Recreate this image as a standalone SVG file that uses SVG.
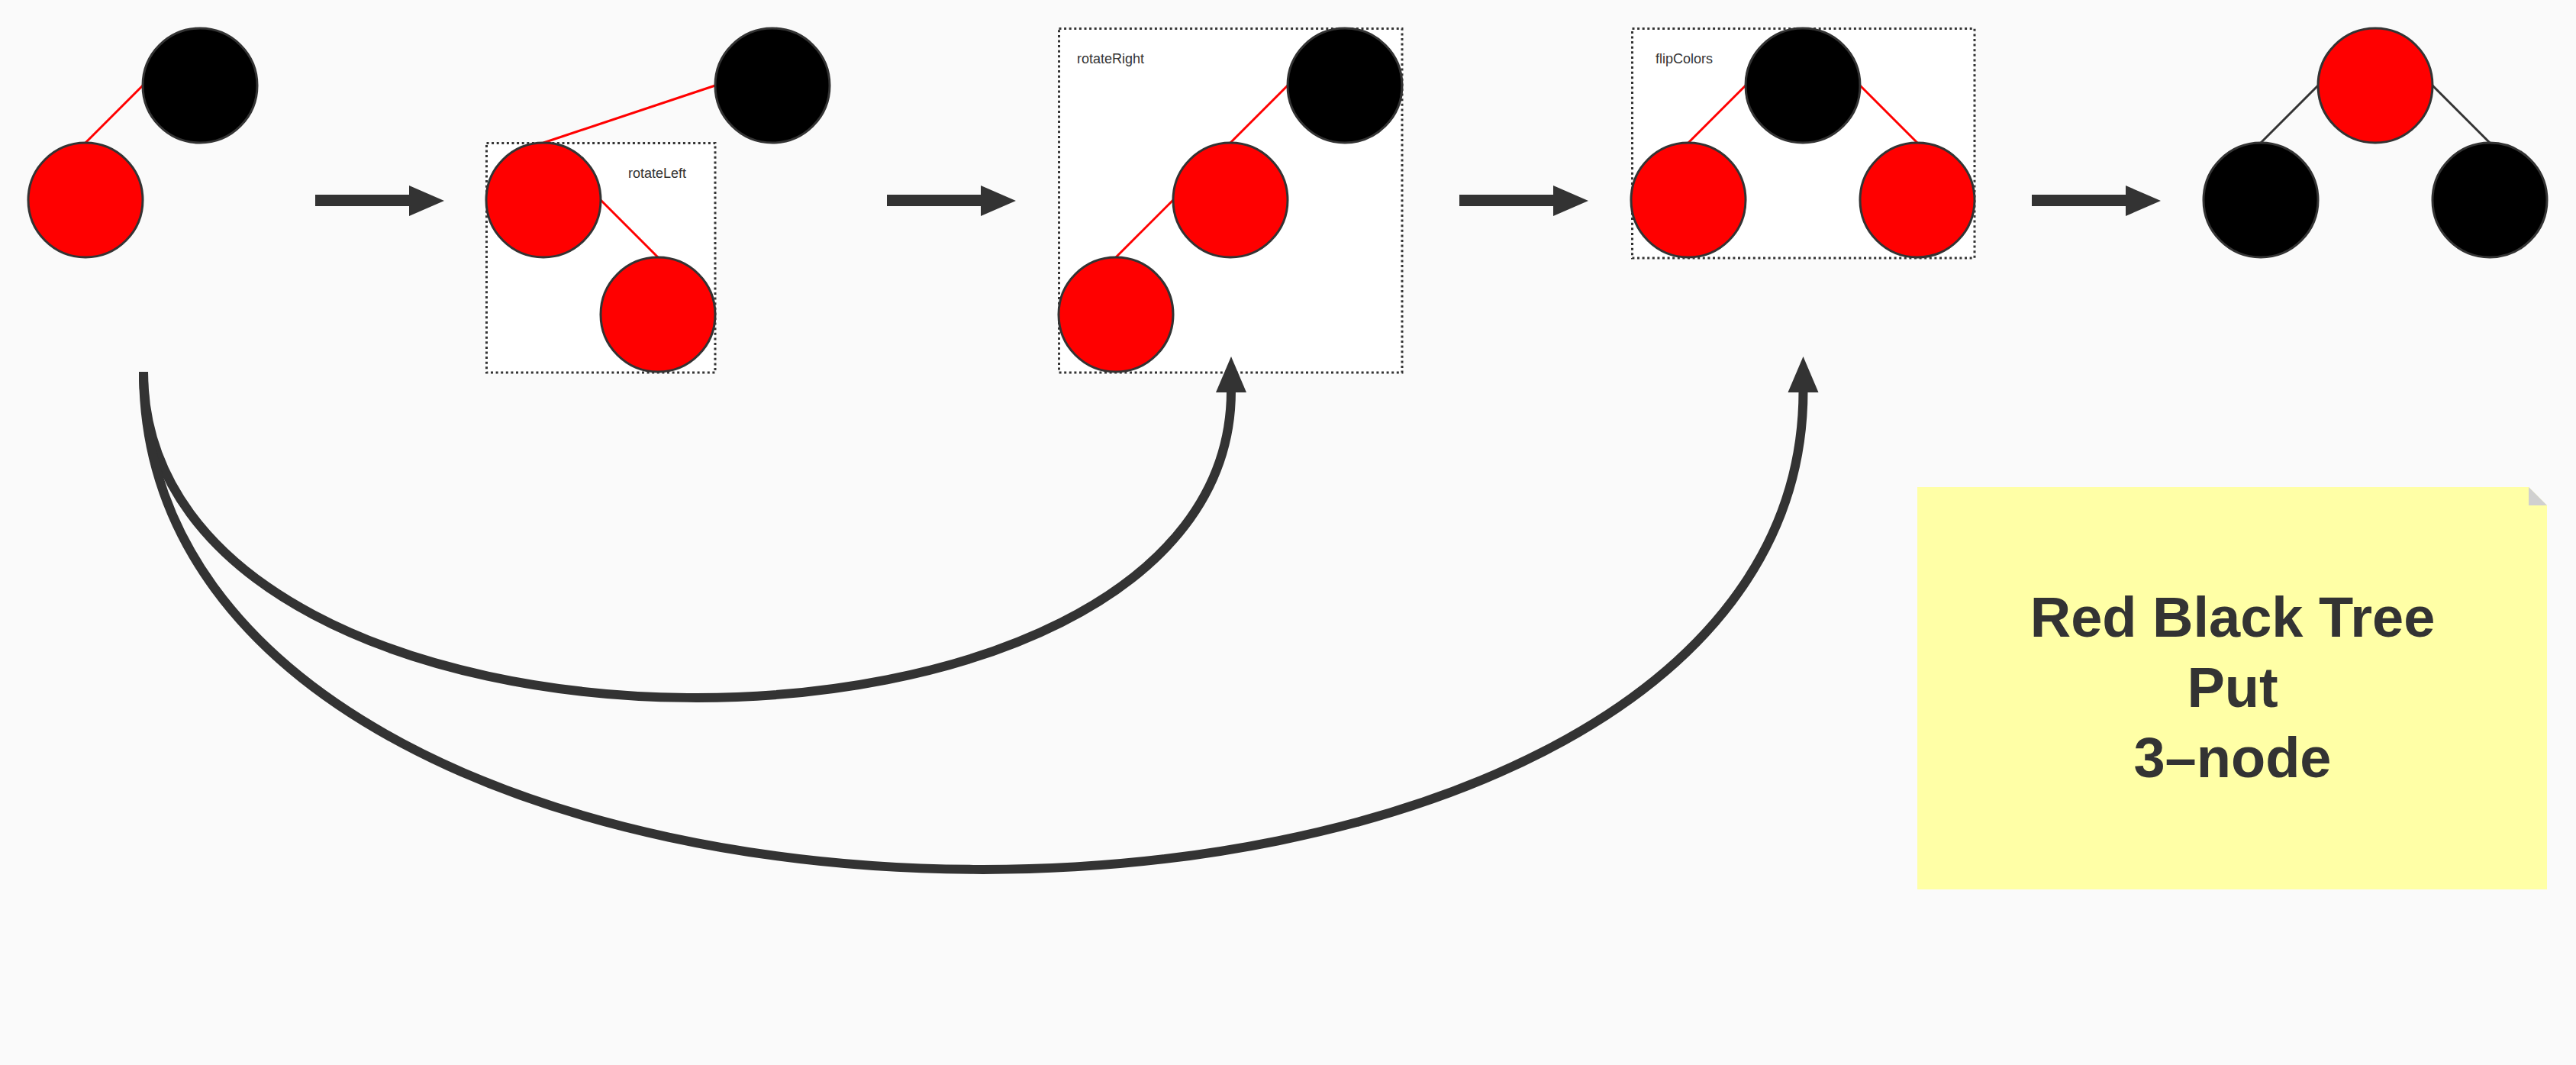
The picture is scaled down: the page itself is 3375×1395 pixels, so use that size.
<svg xmlns="http://www.w3.org/2000/svg" width="3375" height="1395" viewBox="0 0 3375 1395">
<style>
.bg{fill:#fafafa}
.box{fill:#ffffff;stroke:#333333;stroke-width:3;stroke-dasharray:3 3.6}
.red{fill:#ff0000;stroke:#333333;stroke-width:3}
.blk{fill:#000000;stroke:#333333;stroke-width:3}
.rl{stroke:#ff0000;stroke-width:3;fill:none}
.bl{stroke:#333333;stroke-width:3;fill:none}
.lbl{font-family:"Liberation Sans",Arial,Helvetica,sans-serif;font-size:18px;fill:#333333}
.big{font-family:"Liberation Sans",Arial,Helvetica,sans-serif;font-size:74px;font-weight:bold;fill:#333333;text-anchor:middle}
.arr{fill:#333333}
.curve{fill:none;stroke:#333333;stroke-width:12}
</style>
<rect class="bg" x="0" y="0" width="3375" height="1395"/>

<g id="tree1">
  <line class="rl" x1="187" y1="112" x2="112" y2="187"/>
  <g id="t1-black"><circle class="blk" cx="262" cy="112" r="75"/></g>
  <g id="t1-red"><circle class="red" cx="112" cy="262" r="75"/></g>
</g>

<g id="tree2">
  <rect id="box-rotateLeft" class="box" x="637.5" y="187.5" width="299.5" height="300.5"/>
  <line class="rl" x1="937" y1="112" x2="712" y2="187"/>
  <line class="rl" x1="787" y1="262" x2="862" y2="337"/>
  <g id="t2-black"><circle class="blk" cx="1012" cy="112" r="75"/></g>
  <g id="t2-red1"><circle class="red" cx="712" cy="262" r="75"/></g>
  <g id="t2-red2"><circle class="red" cx="862" cy="412" r="75"/></g>
  <text class="lbl" x="823" y="233">rotateLeft</text>
</g>

<g id="tree3">
  <rect id="box-rotateRight" class="box" x="1387.5" y="37.5" width="449.5" height="450.5"/>
  <line class="rl" x1="1687" y1="112" x2="1612" y2="187"/>
  <line class="rl" x1="1537" y1="262" x2="1462" y2="337"/>
  <g id="t3-black"><circle class="blk" cx="1762" cy="112" r="75"/></g>
  <g id="t3-red1"><circle class="red" cx="1612" cy="262" r="75"/></g>
  <g id="t3-red2"><circle class="red" cx="1462" cy="412" r="75"/></g>
  <text class="lbl" x="1411" y="83">rotateRight</text>
</g>

<g id="tree4">
  <rect id="box-flipColors" class="box" x="2138.5" y="37.5" width="448.5" height="300.5"/>
  <line class="rl" x1="2287" y1="112" x2="2212" y2="187"/>
  <line class="rl" x1="2437" y1="112" x2="2512" y2="187"/>
  <g id="t4-black"><circle class="blk" cx="2362" cy="112" r="75"/></g>
  <g id="t4-red1"><circle class="red" cx="2212" cy="262" r="75"/></g>
  <g id="t4-red2"><circle class="red" cx="2512" cy="262" r="75"/></g>
  <text class="lbl" x="2169" y="83">flipColors</text>
</g>

<g id="tree5">
  <line class="bl" x1="3037" y1="112" x2="2962" y2="187"/>
  <line class="bl" x1="3187" y1="112" x2="3262" y2="187"/>
  <g id="t5-red"><circle class="red" cx="3112" cy="112" r="75"/></g>
  <g id="t5-black1"><circle class="blk" cx="2962" cy="262" r="75"/></g>
  <g id="t5-black2"><circle class="blk" cx="3262" cy="262" r="75"/></g>
</g>

<g id="note">
  <polygon points="2512,638 3313,638 3337,662 3337,1165 2512,1165" fill="#ffffa6"/>
  <polygon points="3313,638 3337,662 3313,662" fill="#d0d0d0"/>
  <text class="big" x="2925" y="834">Red Black Tree</text>
  <text class="big" x="2925" y="926">Put</text>
  <text class="big" x="2925" y="1018">3–node</text>
</g>

<g id="connectors">
  <polygon class="arr" points="413,255 536,255 536,243 582,263 536,283 536,270 413,270"/>
  <polygon class="arr" points="1162,255 1285,255 1285,243 1331,263 1285,283 1285,270 1162,270"/>
  <polygon class="arr" points="1912,255 2035,255 2035,243 2081,263 2035,283 2035,270 1912,270"/>
  <polygon class="arr" points="2662,255 2785,255 2785,243 2831,263 2785,283 2785,270 2662,270"/>
  <path class="curve" d="M188,487 C188,1052 1613,1052 1613,512"/>
  <polygon class="arr" points="1613,467 1633,514 1593,514"/>
  <path class="curve" d="M188,487 C188,1352 2362.5,1352 2362.5,512"/>
  <polygon class="arr" points="2362.5,467 2382.5,514 2342.5,514"/>
</g>
</svg>
